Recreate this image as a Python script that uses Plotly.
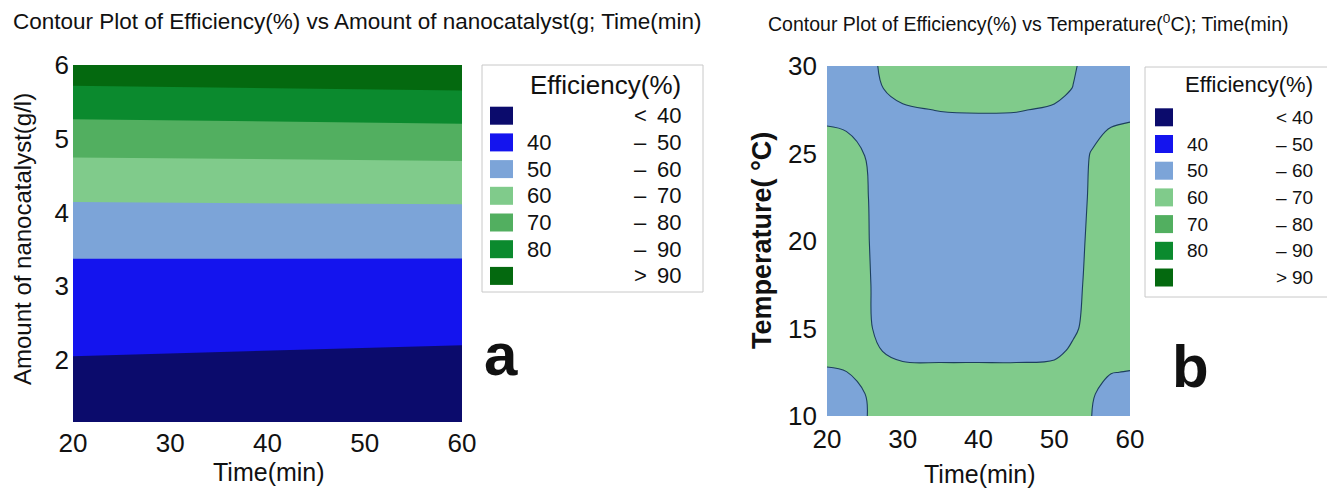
import plotly.graph_objects as go

W, H = 1327, 491
FONT = "Liberation Sans, Arial, sans-serif"

# ---------------- data: panel a (Efficiency vs catalyst amount & time) -------------
time_a = [20, 60]
catalyst_a = [1.16, 2.0, 2.5, 3.0, 3.5, 4.0, 4.5, 5.0, 5.5, 6.0]
eff_a_at_20min = [34, 39.6, 43.4, 46.8, 51.1, 57.8, 65.6, 74.5, 84.9, 96.5]
eff_a_at_60min = [33, 38.4, 42.4, 46.4, 51.2, 58.2, 66.3, 75.6, 86.4, 98.0]

# ---------------- data: panel b (Efficiency vs temperature & time) -----------------
time_b = [20, 22.5, 25, 27.5, 30, 35, 40, 45, 50, 52.5, 55, 57.5, 60]
temp_b = [10, 11.25, 12.5, 13.75, 15, 17.5, 20, 22.5, 25, 26.25, 27.5, 28.75, 30]
eff_b = [
    [55.0, 55.0, 59.4, 64.1, 65.0, 65.0, 65.0, 65.0, 65.0, 64.7, 59.9, 55.3, 55.0],
    [55.0, 55.2, 59.9, 64.6, 65.0, 65.0, 65.0, 65.0, 65.0, 65.0, 60.8, 56.0, 55.0],
    [58.7, 59.7, 64.3, 64.8, 62.5, 62.4, 62.4, 62.4, 63.1, 64.5, 64.2, 60.3, 59.6],
    [64.1, 65.0, 63.2, 59.5, 57.4, 57.0, 57.0, 57.0, 57.6, 61.4, 65.0, 65.0, 65.0],
    [65.0, 65.0, 61.9, 57.2, 55.0, 55.0, 55.0, 55.0, 55.0, 58.6, 63.4, 65.0, 65.0],
    [65.0, 65.0, 61.5, 56.8, 55.0, 55.0, 55.0, 55.0, 55.0, 57.6, 62.4, 65.0, 65.0],
    [65.0, 65.0, 61.1, 56.4, 55.0, 55.0, 55.0, 55.0, 55.0, 57.0, 61.8, 65.0, 65.0],
    [65.0, 65.0, 60.9, 56.1, 55.0, 55.0, 55.0, 55.0, 55.0, 56.4, 61.2, 65.0, 65.0],
    [65.0, 64.2, 59.9, 55.5, 55.0, 55.0, 55.0, 55.0, 55.0, 55.7, 60.6, 65.0, 65.0],
    [61.4, 60.1, 57.5, 55.0, 55.0, 55.2, 55.2, 55.2, 55.0, 55.0, 57.5, 61.1, 62.4],
    [56.0, 55.0, 55.0, 56.8, 58.7, 60.4, 60.9, 60.6, 58.8, 57.0, 55.0, 55.6, 56.9],
    [55.0, 55.0, 55.5, 60.2, 63.5, 65.0, 65.0, 65.0, 63.3, 59.8, 55.0, 55.0, 55.0],
    [55.0, 55.0, 56.8, 61.5, 65.0, 65.0, 65.0, 65.0, 65.0, 61.0, 56.2, 55.0, 55.0],
]

# ---------------- legend / levels ---------------------------------------------------
levels = [40, 50, 60, 70, 80, 90]
band_colors = ["#0b0b6c", "#1414ee", "#7ca4d8", "#80cb8b", "#52af60", "#0b8a2e", "#04690f"]
legend_low = ["", "40", "50", "60", "70", "80", ""]
legend_sym = ["<", "–", "–", "–", "–", "–", ">"]
legend_high = ["40", "50", "60", "70", "80", "90", "90"]

colorscale = [[i / (len(band_colors) - 1), c] for i, c in enumerate(band_colors)]
z_a = [[a, b] for a, b in zip(eff_a_at_20min, eff_a_at_60min)]


def px(x):
    return x / W


def py(y):
    return 1 - y / H


fig = go.Figure()
contours = dict(start=levels[0], end=levels[-1], size=levels[1] - levels[0], coloring="fill")

fig.add_trace(go.Contour(
    x=time_a, y=catalyst_a, z=z_a, colorscale=colorscale, showscale=False,
    contours=dict(contours, showlines=False), line=dict(width=0),
    xaxis="x", yaxis="y", hoverinfo="skip"))

fig.add_trace(go.Contour(
    x=time_b, y=temp_b, z=eff_b, colorscale=colorscale, showscale=False,
    contours=contours, line=dict(width=1.1, color="#1d3f5e", smoothing=1.0),
    xaxis="x2", yaxis="y2", hoverinfo="skip"))

tickfont = dict(family=FONT, size=26, color="#111")
axis_common = dict(showgrid=False, zeroline=False, showline=False, ticks="",
                   tickfont=tickfont, ticklabelstandoff=3, automargin=False,
                   fixedrange=True)

fig.update_layout(
    width=W, height=H, autosize=False,
    margin=dict(l=0, r=0, t=0, b=0, pad=0, autoexpand=False),
    paper_bgcolor="white", plot_bgcolor="white",
    showlegend=False,
    xaxis=dict(axis_common, domain=[px(73), px(462)], range=[20, 60],
               tickvals=[20, 30, 40, 50, 60], anchor="y"),
    yaxis=dict(axis_common, domain=[py(422), py(65)], range=[1.16, 6],
               tickvals=[2, 3, 4, 5, 6], anchor="x"),
    xaxis2=dict(axis_common, domain=[px(827), px(1130)], range=[20, 60],
                tickvals=[20, 30, 40, 50, 60], anchor="y2", ticklabelstandoff=5),
    yaxis2=dict(axis_common, domain=[py(416), py(66)], range=[10, 30],
                tickvals=[10, 15, 20, 25, 30], anchor="x2", ticklabelstandoff=9),
)

ann = []
shapes = []


def text(x, y, s, size, xanchor="center", bold=False, angle=0):
    ann.append(dict(x=px(x), y=py(y), xref="paper", yref="paper", text=("<b>%s</b>" % s) if bold else s,
                    showarrow=False, xanchor=xanchor, yanchor="middle", textangle=angle,
                    font=dict(family=FONT, size=size, color="#111")))


# titles
text(357, 21, "Contour Plot of Efficiency(%) vs Amount of nanocatalyst(g; Time(min)", 22.5)
text(1028, 23, "Contour Plot of Efficiency(%) vs Temperature(<sup>0</sup>C); Time(min)", 19.5)

# axis titles
text(269, 472, "Time(min)", 25)
text(980, 474, "Time(min)", 25)
text(22, 239, "Amount of nanocatalyst(g/l)", 24, angle=-90)
text(762, 241, "Temperature( °C)", 27, bold=True, angle=-90)

# panel letters
text(501, 354, "a", 60, bold=True)
text(1190, 366, "b", 60, bold=True)


def legend(x0, y0, x1, y1, title_y, title_size, sw_x0, sw_w, row0, row_h, low_x, sym_x, high_x, size):
    shapes.append(dict(type="rect", xref="paper", yref="paper", x0=px(x0), x1=px(x1),
                       y0=py(y1), y1=py(y0), line=dict(color="#c8c8c8", width=1), fillcolor="white",
                       layer="below"))
    text(high_x, title_y, "Efficiency(%)", title_size, xanchor="right")
    for i, c in enumerate(band_colors):
        yc = row0 + i * row_h
        shapes.append(dict(type="rect", xref="paper", yref="paper", x0=px(sw_x0), x1=px(sw_x0 + sw_w),
                           y0=py(yc + 9), y1=py(yc - 9), line=dict(width=0), fillcolor=c))
        if legend_low[i]:
            text(low_x, yc, legend_low[i], size, xanchor="left")
        text(sym_x, yc, legend_sym[i], size)
        text(high_x, yc, legend_high[i], size, xanchor="right")


legend(482, 65, 703, 292, 85, 26, 490, 23, 115.7, 26.7, 525, 640, 683, 22)
legend(1145, 67, 1360, 297, 84, 22, 1155, 18, 117.3, 26.7, 1185, 1281, 1315, 19)

fig.update_layout(annotations=ann, shapes=shapes)
fig.write_html(
    "out.html",
    config={"displayModeBar": False, "staticPlot": True},
    post_script="document.body.style.margin='0';document.body.style.padding='0';"
                "document.body.style.overflow='hidden';",
)
